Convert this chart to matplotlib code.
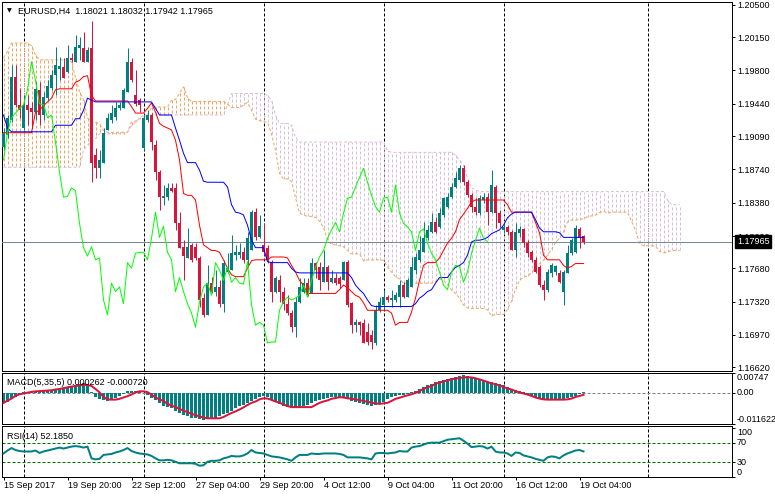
import matplotlib
matplotlib.use("Agg")
import matplotlib.pyplot as plt
from matplotlib.collections import LineCollection
import numpy as np

plt.rcParams['font.family'] = ['Liberation Sans', 'DejaVu Sans']

# ---------------- data (EURUSD H4) ----------------
header = "EURUSD,H4  1.18021 1.18032 1.17942 1.17965"
macd_title = "MACD(5,35,5) 0.000262 -0.000720"
rsi_title = "RSI(14) 52.1850"

opens = [
    1.1898, 1.1911, 1.1927, 1.1973, 1.1943, 1.1918, 1.1943, 1.1939, 1.1935, 1.1959,
    1.1932, 1.1950, 1.1961, 1.1975, 1.1981, 1.1983, 1.1978, 1.1993, 1.1989, 1.2004,
    1.2004, 1.1989, 1.2004, 1.1889, 1.1875, 1.1881, 1.1916, 1.1927, 1.1930, 1.1939,
    1.1939, 1.1957, 1.1989, 1.1953, 1.1948, 1.1897, 1.1927, 1.1932, 1.1900, 1.1871,
    1.1843, 1.1844, 1.1854, 1.1854, 1.1816, 1.1791, 1.1779, 1.1793, 1.1791, 1.1779,
    1.1736, 1.1718, 1.1752, 1.1743, 1.1748, 1.1730, 1.1764, 1.1766, 1.1782, 1.1782,
    1.1785, 1.1777, 1.1787, 1.1828, 1.1801, 1.1793, 1.1790, 1.1775, 1.1743, 1.1755,
    1.1743, 1.1730, 1.1720, 1.1705, 1.1732, 1.1743, 1.1752, 1.1741, 1.1774, 1.1769,
    1.1753, 1.1769, 1.1753, 1.1758, 1.1758, 1.1755, 1.1775, 1.1731, 1.1707, 1.1710,
    1.1709, 1.1700, 1.1697, 1.1688, 1.1723, 1.1729, 1.1737, 1.1734, 1.1734, 1.1737,
    1.1750, 1.1737, 1.1748, 1.1766, 1.1777, 1.1785, 1.1800, 1.1807, 1.1817, 1.1812,
    1.1825, 1.1833, 1.1844, 1.1855, 1.1862, 1.1875, 1.1860, 1.1846, 1.1834, 1.1827,
    1.1841, 1.1844, 1.1828, 1.1855, 1.1827, 1.1809, 1.1812, 1.1807, 1.1787, 1.1806,
    1.1810, 1.1795, 1.1785, 1.1777, 1.1769, 1.1750, 1.1745, 1.1763, 1.1764, 1.1763,
    1.1743, 1.1763, 1.1784, 1.1785, 1.1810, 1.18021,
]
highs = [
    1.1918, 1.1932, 1.1985, 1.1985, 1.1961, 1.1953, 1.1953, 1.1946, 1.1967, 1.1967,
    1.1957, 1.1969, 1.1980, 1.2005, 1.1994, 1.1993, 1.2007, 1.1998, 1.2018, 1.2015,
    1.2021, 1.2005, 1.2033, 1.1897, 1.1894, 1.1918, 1.1934, 1.1943, 1.1946, 1.1946,
    1.1961, 1.2004, 1.1993, 1.1980, 1.1950, 1.1932, 1.1937, 1.1934, 1.1905, 1.1873,
    1.1857, 1.1859, 1.1859, 1.1859, 1.1828, 1.1798, 1.1811, 1.1795, 1.1795, 1.1781,
    1.1741, 1.1771, 1.1759, 1.1766, 1.1755, 1.1777, 1.1784, 1.1804, 1.1793, 1.1795,
    1.1791, 1.1807, 1.1830, 1.1832, 1.1825, 1.1816, 1.1793, 1.1777, 1.1760, 1.1761,
    1.1748, 1.1739, 1.1723, 1.1737, 1.1757, 1.1757, 1.1757, 1.1779, 1.1775, 1.1775,
    1.1787, 1.1771, 1.1766, 1.1763, 1.1760, 1.1776, 1.1777, 1.1732, 1.1714, 1.1712,
    1.1714, 1.1709, 1.1702, 1.1729, 1.1737, 1.1745, 1.1739, 1.1745, 1.1743, 1.1755,
    1.1753, 1.1757, 1.1780, 1.1784, 1.1803, 1.1817, 1.1814, 1.1827, 1.1823, 1.1832,
    1.1844, 1.1848, 1.1859, 1.1871, 1.1878, 1.1878, 1.1862, 1.1849, 1.1843, 1.1846,
    1.1849, 1.1848, 1.1873, 1.1857, 1.1830, 1.1816, 1.1814, 1.1809, 1.1816, 1.1813,
    1.1811, 1.1798, 1.1787, 1.1780, 1.1771, 1.1755, 1.1767, 1.1774, 1.1771, 1.1766,
    1.1766, 1.1793, 1.1800, 1.1814, 1.1812, 1.18032,
]
lows = [
    1.1894, 1.1907, 1.1924, 1.1941, 1.1929, 1.1916, 1.1921, 1.1918, 1.1927, 1.1921,
    1.1927, 1.1948, 1.1959, 1.1953, 1.1969, 1.1972, 1.1977, 1.1989, 1.1989, 1.1991,
    1.1989, 1.1989, 1.1860, 1.1865, 1.1865, 1.1881, 1.1916, 1.1923, 1.1927, 1.1937,
    1.1939, 1.1957, 1.1967, 1.1942, 1.1935, 1.1894, 1.1924, 1.1894, 1.1862, 1.1830,
    1.1836, 1.1841, 1.1850, 1.1809, 1.1790, 1.1755, 1.1779, 1.1775, 1.1777, 1.1727,
    1.1716, 1.1718, 1.1741, 1.1738, 1.1727, 1.1721, 1.1763, 1.1766, 1.1777, 1.1779,
    1.1774, 1.1771, 1.1787, 1.1798, 1.1800, 1.1782, 1.1774, 1.1732, 1.1741, 1.1732,
    1.1723, 1.1718, 1.1700, 1.1694, 1.1731, 1.1741, 1.1738, 1.1741, 1.1757, 1.1745,
    1.1753, 1.1745, 1.1752, 1.1750, 1.1747, 1.1755, 1.1727, 1.1699, 1.1700, 1.1697,
    1.1688, 1.1686, 1.1682, 1.1686, 1.1721, 1.1723, 1.1732, 1.1727, 1.1732, 1.1727,
    1.1736, 1.1737, 1.1748, 1.1762, 1.1775, 1.1785, 1.1798, 1.1806, 1.1806, 1.1811,
    1.1823, 1.1832, 1.1843, 1.1854, 1.1860, 1.1857, 1.1844, 1.1828, 1.1825, 1.1825,
    1.1838, 1.1814, 1.1827, 1.1811, 1.1812, 1.1806, 1.1804, 1.1787, 1.1780, 1.1801,
    1.1791, 1.1780, 1.1775, 1.1763, 1.1748, 1.1734, 1.1743, 1.1759, 1.1761, 1.1752,
    1.1729, 1.1763, 1.1782, 1.1784, 1.1790, 1.17942,
]
closes = [
    1.1913, 1.1929, 1.1973, 1.1943, 1.1937, 1.1943, 1.1937, 1.1935, 1.1960, 1.1932,
    1.1951, 1.1963, 1.1975, 1.1985, 1.1984, 1.1972, 1.1993, 1.1991, 1.2005, 1.2007,
    1.1989, 1.2001, 1.1881, 1.1875, 1.1884, 1.1913, 1.1929, 1.1934, 1.1939, 1.1943,
    1.1959, 1.1989, 1.1969, 1.1944, 1.1943, 1.1929, 1.1932, 1.1903, 1.1871, 1.1844,
    1.1845, 1.1854, 1.1851, 1.1816, 1.1790, 1.1781, 1.1791, 1.1777, 1.1779, 1.1734,
    1.1718, 1.1752, 1.1743, 1.1748, 1.1730, 1.1774, 1.1768, 1.1784, 1.1785, 1.1785,
    1.1777, 1.1800, 1.1828, 1.1801, 1.1813, 1.1785, 1.1777, 1.1743, 1.1758, 1.1743,
    1.1730, 1.1720, 1.1705, 1.1732, 1.1748, 1.1752, 1.1739, 1.1774, 1.1766, 1.1755,
    1.1769, 1.1753, 1.1758, 1.1752, 1.1751, 1.1775, 1.1729, 1.1707, 1.1710, 1.1707,
    1.1688, 1.1689, 1.1689, 1.1723, 1.1732, 1.1737, 1.1734, 1.1736, 1.1739, 1.1750,
    1.1737, 1.1755, 1.1769, 1.1780, 1.1787, 1.1800, 1.1809, 1.1817, 1.1807, 1.1827,
    1.1843, 1.1844, 1.1855, 1.1865, 1.1875, 1.1860, 1.1846, 1.1834, 1.1828, 1.1843,
    1.1844, 1.1828, 1.1857, 1.1827, 1.1816, 1.1812, 1.1807, 1.1787, 1.1807, 1.1810,
    1.1795, 1.1784, 1.1777, 1.1764, 1.1750, 1.1745, 1.1764, 1.1771, 1.1770, 1.1753,
    1.1764, 1.1784, 1.1798, 1.1811, 1.1800, 1.17965,
]

tenkan = [
    1.1913, 1.1913, 1.1913, 1.1913, 1.1913, 1.1913, 1.1913, 1.1913, 1.1935, 1.1937,
    1.1942, 1.1946, 1.1950, 1.1959, 1.1960, 1.1960, 1.1960, 1.1960, 1.1967, 1.1969,
    1.1973, 1.1974, 1.1953, 1.1947, 1.1947, 1.1947, 1.1947, 1.1947, 1.1947, 1.1947,
    1.1947, 1.1947, 1.1941, 1.1934, 1.1934, 1.1934, 1.1939, 1.1945, 1.1935, 1.1923,
    1.1920, 1.1918, 1.1916, 1.1905, 1.1884, 1.1848, 1.1846, 1.1846, 1.1841, 1.1814,
    1.1793, 1.1790, 1.1787, 1.1787, 1.1785, 1.1777, 1.1768, 1.1761, 1.1759, 1.1759,
    1.1759, 1.1768, 1.1776, 1.1777, 1.1777, 1.1777, 1.1777, 1.1780, 1.1780, 1.1780,
    1.1780, 1.1779, 1.1771, 1.1764, 1.1755, 1.1750, 1.1741, 1.1741, 1.1741, 1.1741,
    1.1741, 1.1741, 1.1741, 1.1741, 1.1745, 1.1750, 1.1747, 1.1743, 1.1739, 1.1737,
    1.1731, 1.1723, 1.1723, 1.1723, 1.1723, 1.1723, 1.1723, 1.1720, 1.1707, 1.1710,
    1.1710, 1.1710, 1.1721, 1.1736, 1.1755, 1.1771, 1.1774, 1.1774, 1.1774, 1.1779,
    1.1787, 1.1795, 1.1800, 1.1807, 1.1820, 1.1826, 1.1832, 1.1839, 1.1841, 1.1841,
    1.1841, 1.1841, 1.1841, 1.1841, 1.1841, 1.1841, 1.1836, 1.1828, 1.1828, 1.1828,
    1.1828, 1.1828, 1.1828, 1.1817, 1.1806, 1.1782, 1.1777, 1.1777, 1.1777, 1.1777,
    1.1771, 1.1768, 1.1770, 1.1773, 1.1773, 1.1773,
]
kijun = [
    1.1932, 1.1918, 1.1914, 1.1914, 1.1914, 1.1914, 1.1914, 1.1914, 1.1914, 1.1914,
    1.1914, 1.1914, 1.1914, 1.1921, 1.1921, 1.1921, 1.1921, 1.1921, 1.1928, 1.1928,
    1.1937, 1.1950, 1.1948, 1.1946, 1.1946, 1.1946, 1.1946, 1.1946, 1.1946, 1.1946,
    1.1946, 1.1946, 1.1946, 1.1946, 1.1946, 1.1946, 1.1946, 1.1946, 1.1939, 1.1932,
    1.1932, 1.1932, 1.1932, 1.1918, 1.1905, 1.1891, 1.1881, 1.1881, 1.1881, 1.1873,
    1.1861, 1.1860, 1.1860, 1.1860, 1.1860, 1.1860, 1.1855, 1.1836, 1.1828, 1.1827,
    1.1825, 1.1814, 1.1798, 1.1790, 1.1790, 1.1790, 1.1775, 1.1774, 1.1774, 1.1774,
    1.1774, 1.1774, 1.1768, 1.1764, 1.1763, 1.1763, 1.1763, 1.1763, 1.1763, 1.1763,
    1.1763, 1.1763, 1.1763, 1.1763, 1.1763, 1.1763, 1.1763, 1.1758, 1.1750, 1.1745,
    1.1741, 1.1734, 1.1728, 1.1727, 1.1727, 1.1727, 1.1727, 1.1727, 1.1727, 1.1727,
    1.1727, 1.1727, 1.1727, 1.1730, 1.1736, 1.1739, 1.1743, 1.1745, 1.1752, 1.1758,
    1.1758, 1.1758, 1.1764, 1.1769, 1.1771, 1.1774, 1.1782, 1.1796, 1.1798, 1.1798,
    1.1799, 1.1801, 1.1805, 1.1807, 1.1809, 1.1814, 1.1822, 1.1826, 1.1828, 1.1828,
    1.1828, 1.1828, 1.1828, 1.1820, 1.1811, 1.1807, 1.1807, 1.1807, 1.1807, 1.1806,
    1.1801, 1.1801, 1.1801, 1.1801, 1.1801, 1.1801,
]
span_a = [
    1.1993, 1.2000, 1.2009, 1.2009, 1.2009, 1.2009, 1.2009, 1.2006, 1.1996, 1.1991,
    1.1991, 1.1991, 1.1991, 1.1991, 1.1991, 1.1991, 1.1991, 1.1989, 1.1972, 1.1957,
    1.1948, 1.1929, 1.1924, 1.1924, 1.19225, 1.19155, 1.19135, 1.19135, 1.19135, 1.19135,
    1.19135, 1.19135, 1.19245, 1.19255, 1.1928, 1.1930, 1.1932, 1.1940, 1.19405, 1.19405,
    1.19405, 1.19405, 1.19475, 1.19485, 1.1955, 1.1962, 1.19505, 1.19465, 1.19465, 1.19465,
    1.19465, 1.19465, 1.19465, 1.19465, 1.19465, 1.19465, 1.19435, 1.1940, 1.1940, 1.1940,
    1.19425, 1.19455, 1.1937, 1.19275, 1.1926, 1.1925, 1.1924, 1.19115, 1.18945, 1.18695,
    1.18635, 1.18635, 1.1861, 1.18435, 1.1827, 1.1825, 1.18235, 1.18235, 1.18225, 1.18185,
    1.18115, 1.17985, 1.17935, 1.1793, 1.1792, 1.1791, 1.1787, 1.17835, 1.17835, 1.17835,
    1.1776, 1.1777, 1.1777, 1.1777, 1.1777, 1.17765, 1.17695, 1.1764, 1.1759, 1.17565,
    1.1752, 1.1752, 1.1752, 1.1752, 1.1752, 1.1752, 1.1752, 1.1752, 1.1754, 1.17565,
    1.1755, 1.17505, 1.17445, 1.1741, 1.1736, 1.17285, 1.17255, 1.1725, 1.1725, 1.1725,
    1.1725, 1.17235, 1.1717, 1.17185, 1.17185, 1.17185, 1.1724, 1.1733, 1.17455, 1.1755,
    1.17585, 1.17595, 1.1763, 1.17685, 1.17725, 1.17765, 1.1782, 1.1788, 1.17955, 1.1800,
    1.1807, 1.18175, 1.18195, 1.18195, 1.1820, 1.1821, 1.1823, 1.1824, 1.1825, 1.18275,
    1.1829, 1.1827, 1.1828, 1.1828, 1.1828, 1.1828, 1.1828, 1.18185, 1.18085, 1.17945,
    1.1792, 1.1792, 1.1792, 1.17915, 1.1786, 1.17845, 1.17855, 1.1787, 1.1787, 1.1787,
]
span_b = [
    1.1876, 1.1876, 1.1876, 1.1876, 1.1876, 1.1876, 1.1876, 1.1876, 1.1876, 1.1876,
    1.1876, 1.1876, 1.1876, 1.1876, 1.1876, 1.1876, 1.1876, 1.1876, 1.1876, 1.1876,
    1.1894, 1.1900, 1.1902, 1.1907, 1.1912, 1.1912, 1.1912, 1.1912, 1.1912, 1.1912,
    1.1912, 1.1914, 1.1920, 1.1924, 1.1929, 1.1932, 1.1932, 1.1932, 1.1932, 1.1932,
    1.1932, 1.1932, 1.1932, 1.1932, 1.1932, 1.1932, 1.1932, 1.1932, 1.1932, 1.1932,
    1.1932, 1.1932, 1.1932, 1.1932, 1.1932, 1.1932, 1.1943, 1.1955, 1.1955, 1.1955,
    1.1955, 1.1955, 1.1955, 1.1955, 1.1955, 1.1955, 1.1953, 1.1948, 1.1932, 1.1923,
    1.1923, 1.1923, 1.1921, 1.1908, 1.1903, 1.1903, 1.1903, 1.1903, 1.1903, 1.1903,
    1.1903, 1.1903, 1.1903, 1.1903, 1.1903, 1.1903, 1.1903, 1.1903, 1.1903, 1.1903,
    1.1903, 1.1903, 1.1903, 1.1903, 1.1903, 1.1903, 1.1894, 1.1892, 1.1892, 1.1892,
    1.1892, 1.1892, 1.1892, 1.1892, 1.1892, 1.1892, 1.1892, 1.1892, 1.1892, 1.1892,
    1.1892, 1.1892, 1.1892, 1.1889, 1.1884, 1.1878, 1.1865, 1.1854, 1.1852, 1.1850,
    1.1850, 1.1850, 1.1850, 1.1850, 1.1850, 1.1850, 1.1850, 1.1850, 1.1850, 1.1850,
    1.1850, 1.1850, 1.1850, 1.1850, 1.1850, 1.1850, 1.1850, 1.1850, 1.1850, 1.1850,
    1.1850, 1.1850, 1.1850, 1.1850, 1.1850, 1.1850, 1.1850, 1.1850, 1.1850, 1.1850,
    1.1850, 1.1850, 1.1850, 1.1850, 1.1850, 1.1850, 1.1850, 1.1850, 1.1850, 1.1850,
    1.1850, 1.1850, 1.1850, 1.1850, 1.1850, 1.1850, 1.1841, 1.1836, 1.1836, 1.1836,
]
chikou_shift = 24  # lagging span = close drawn this many bars back

macd_hist = [
    -0.0035, -0.0033, -0.0020, -0.0014, -0.0005, 0.0003, 0.0005, 0.0006, 0.0008, 0.0008,
    0.0009, 0.0010, 0.0012, 0.0014, 0.0015, 0.0016, 0.0020, 0.0024, 0.0028, 0.0032,
    0.0036, 0.0034, 0.0002, -0.0014, -0.0022, -0.0028, -0.0029, -0.0024, -0.0020, -0.0010,
    -0.0004, 0.0006, 0.0009, 0.0008, 0.0006, -0.0002, -0.0008, -0.0020, -0.0028, -0.0038,
    -0.0048, -0.0054, -0.0058, -0.0066, -0.0075, -0.0082, -0.0088, -0.0092, -0.0095, -0.0098,
    -0.0100, -0.0097, -0.0095, -0.0092, -0.0086, -0.0080, -0.0074, -0.0066, -0.0058, -0.0050,
    -0.0045, -0.0038, -0.0030, -0.0022, -0.0014, -0.0010, -0.0016, -0.0025, -0.0035, -0.0042,
    -0.0048, -0.0052, -0.0056, -0.0055, -0.0052, -0.0050, -0.0046, -0.0038, -0.0030, -0.0025,
    -0.0022, -0.0018, -0.0016, -0.0015, -0.0016, -0.0016, -0.0022, -0.0030, -0.0035, -0.0038,
    -0.0042, -0.0045, -0.0047, -0.0044, -0.0038, -0.0032, -0.0022, -0.0015, -0.0010, -0.0008,
    -0.0008, -0.0005, 0.0002, 0.0009, 0.0016, 0.0022, 0.0028, 0.0034, 0.0040, 0.0044,
    0.0048, 0.0052, 0.0055, 0.0060, 0.0064, 0.0066, 0.0062, 0.0056, 0.0052, 0.0050,
    0.0047, 0.0042, 0.0040, 0.0036, 0.0032, 0.0028, 0.0022, 0.0016, 0.0010, 0.0006,
    0.0002, -0.0004, -0.0010, -0.0016, -0.0022, -0.0028, -0.0028, -0.0026, -0.0024, -0.0024,
    -0.0022, -0.0020, -0.0016, -0.0010, -0.0004, 0.000262,
]
macd_signal = [
    -0.0037, -0.0029, -0.0021, -0.0011, -0.0005, -0.0002, 0.0001, 0.0004, 0.0006, 0.0007,
    0.0008, 0.0009, 0.0010, 0.0013, 0.0015, 0.0018, 0.0021, 0.0024, 0.0026, 0.0028,
    0.0030, 0.0030, 0.0026, 0.0015, 0.0002, -0.0015, -0.0024, -0.0025, -0.0025, -0.0022,
    -0.0017, -0.0012, -0.0006, 0.0002, 0.0006, 0.0006, 0.0003, -0.0006, -0.0017, -0.0024,
    -0.0030, -0.0041, -0.0047, -0.0053, -0.0060, -0.0066, -0.0072, -0.0078, -0.0083, -0.0088,
    -0.0092, -0.0095, -0.0095, -0.0095, -0.0095, -0.0090, -0.0082, -0.0075, -0.0069, -0.0062,
    -0.0054, -0.0045, -0.0037, -0.0032, -0.0024, -0.0020, -0.0021, -0.0026, -0.0032, -0.0037,
    -0.0043, -0.0049, -0.0053, -0.0053, -0.0053, -0.0053, -0.0053, -0.0053, -0.0045, -0.0037,
    -0.0032, -0.0028, -0.0022, -0.0019, -0.0016, -0.0017, -0.0020, -0.0022, -0.0024, -0.0027,
    -0.0030, -0.0033, -0.0036, -0.0039, -0.0041, -0.0039, -0.0037, -0.0030, -0.0022, -0.0018,
    -0.0013, -0.0009, -0.0005, 0.0000, 0.0007, 0.0015, 0.0021, 0.0026, 0.0034, 0.0039,
    0.0043, 0.0047, 0.0051, 0.0054, 0.0056, 0.0058, 0.0059, 0.0058, 0.0055, 0.0051,
    0.0046, 0.0041, 0.0036, 0.0033, 0.0028, 0.0022, 0.0017, 0.0013, 0.0007, 0.0002,
    -0.0002, -0.0006, -0.0011, -0.0017, -0.0021, -0.0024, -0.0025, -0.0025, -0.0025, -0.0025,
    -0.0025, -0.0024, -0.0021, -0.0015, -0.0011, -0.00072,
]
rsi = [
    48, 54, 59, 55, 53, 52, 52, 52, 54, 49,
    52, 54, 56, 58, 60, 58, 60, 62, 63, 62,
    60, 62, 38, 36, 37, 45, 46, 47, 50, 52,
    55, 59, 53, 50, 48, 47, 46, 43, 38, 34,
    34, 35, 34, 31, 28, 28, 28, 28, 27, 23,
    24, 31, 33, 33, 34, 38, 40, 43, 42, 42,
    44, 48, 55, 50, 49, 48, 45, 42, 41, 40,
    38, 36, 33, 40, 45, 45, 45, 48, 47, 47,
    48, 48, 48, 48, 47, 45, 40, 40, 40, 40,
    39, 38, 36, 48, 49, 49, 48, 49, 50, 53,
    52, 52, 60, 62, 63, 66, 69, 70, 70, 70,
    73, 76, 77, 78, 79, 74, 68, 61, 62, 63,
    62, 58, 62, 52, 50, 50, 48, 43, 50, 49,
    44, 42, 40, 37, 35, 33, 40, 42, 41, 38,
    44, 48, 51, 54, 55, 52.185,
]

time_tick_bars = [0, 16, 32, 48, 64, 80, 96, 112, 128, 144]
time_tick_labels = ["15 Sep 2017", "19 Sep 20:00", "22 Sep 12:00", "27 Sep 04:00",
                    "29 Sep 20:00", "4 Oct 12:00", "9 Oct 04:00", "11 Oct 20:00",
                    "16 Oct 12:00", "19 Oct 04:00"]
week_grid_bars = [5, 35, 65, 95, 125, 161]
price_ticks = [1.20500, 1.20150, 1.19800, 1.19440, 1.19090, 1.18740,
               1.18380, 1.18020, 1.17680, 1.17320, 1.16970, 1.16620]
macd_ticks = [0.00747, 0.0, -0.011622]
macd_tick_labels = ["0.00747", "0.00", "-0.011622"]
rsi_ticks = [100, 70, 30, 0]
rsi_levels = [70, 30]

# ---------------- figure ----------------
W, H = 775, 498
fig = plt.figure(figsize=(W / 100, H / 100), dpi=100)
PX = 0.72  # one pixel in points
FS = 6.5
BULL, BEAR = '#008080', '#DC143C'
DASH = (0, (3, 2))


def panel(l, t, r, b):
    return fig.add_axes([l / W, 1 - b / H, (r - l) / W, (b - t) / H])


ax = panel(2, 2, 732, 371)
axm = panel(2, 373, 732, 424)
axr = panel(2, 426, 732, 477)

for a_ in (ax, axm, axr):
    a_.set_xlim(-0.375, 182.125)  # 4 px per bar, bar centres on pixel centres
    for s in a_.spines.values():
        s.set_linewidth(PX)
    a_.yaxis.tick_right()
    a_.tick_params(axis='y', direction='out', length=3 * PX, width=PX,
                   pad=2 * PX, labelsize=FS)
    for g in week_grid_bars:
        a_.axvline(g, color='black', lw=PX, ls=DASH, zorder=0.5)

# ---- main price panel ----
o, hi, lo, c = (np.array(v) for v in (opens, highs, lows, closes))
idx = np.arange(len(c))

a_arr, b_arr = np.array(span_a), np.array(span_b)
cidx = np.arange(len(a_arr))
segs = [[(i, a_arr[i]), (i, b_arr[i])] for i in cidx]
cols = ['#F4A460' if a_arr[i] >= b_arr[i] else '#D8BFD8' for i in cidx]
ax.add_collection(LineCollection(segs, colors=cols, linewidths=PX,
                                 linestyles=[DASH], zorder=1))
ax.plot(cidx, a_arr, color='#F4A460', lw=PX, ls=DASH, zorder=2)
ax.plot(cidx, b_arr, color='#D8BFD8', lw=PX, ls=DASH, zorder=2)

ax.axhline(c[-1], color='#778899', lw=PX, zorder=3)

colors = np.where(c >= o, BULL, BEAR)
ax.vlines(idx, lo, hi, colors=colors, lw=PX, zorder=4)
body_h = np.maximum(np.abs(c - o), 0.00011)
ax.bar(idx, body_h, bottom=np.minimum(o, c), width=0.75, color=colors,
       lw=0, zorder=5)

ax.plot(idx, tenkan, color='#FF0000', lw=PX, zorder=6)
ax.plot(idx, kijun, color='#0000FF', lw=PX, zorder=6)
ax.plot(idx[:-chikou_shift], c[chikou_shift:], color='#00FF00', lw=PX, zorder=6)

ax.set_ylim(1.16580, 1.20529)
ax.set_yticks(price_ticks)
ax.set_yticklabels([f"{v:.5f}" for v in price_ticks])
ax.set_xticks([])

ax.annotate(f"{c[-1]:.5f}", xy=(1, c[-1]), xycoords=('axes fraction', 'data'),
            xytext=(3.6, 0), textcoords='offset points', va='center', ha='left',
            color='white', fontsize=FS, zorder=10, annotation_clip=False,
            bbox=dict(boxstyle='square,pad=0.2', fc='black', ec='black'))

# ---- MACD panel ----
axm.axhline(0, color='#808080', lw=PX, ls=DASH, zorder=1)
axm.bar(idx, macd_hist, width=0.6, color=BULL, lw=0, zorder=2)
axm.plot(idx, macd_signal, color=BEAR, lw=2 * PX, zorder=3)
axm.set_ylim(macd_ticks[2], macd_ticks[0])
axm.set_yticks(macd_ticks)
axm.set_yticklabels(macd_tick_labels)
for lab, va in zip(axm.get_yticklabels(), ['top', 'center', 'bottom']):
    lab.set_verticalalignment(va)
axm.set_xticks([])

# ---- RSI panel ----
for lv in rsi_levels:
    axr.axhline(lv, color='#007000', lw=PX, ls=DASH, zorder=1)
axr.plot(idx, rsi, color=BULL, lw=2 * PX, zorder=3)
axr.set_ylim(0, 104)
axr.set_yticks(rsi_ticks)
axr.set_yticklabels([str(v) for v in rsi_ticks])
for lab, va in zip(axr.get_yticklabels(), ['top', 'center', 'center', 'bottom']):
    lab.set_verticalalignment(va)
axr.set_xticks(time_tick_bars)
axr.set_xticklabels(time_tick_labels, ha='left')
axr.tick_params(axis='x', direction='out', length=3 * PX, width=PX, pad=1,
                labelsize=FS)


# ---- captions ----
def ptext(x, y, s, size=FS, **kw):
    fig.text(x / W, 1 - y / H, s, fontsize=size, va='center', ha='left', **kw)


ptext(6.5, 10.5, "\u25bc", size=4.5, family='DejaVu Sans')
ptext(18, 11, header)
ptext(7, 382.5, macd_title)
ptext(7, 436, rsi_title)

fig.savefig("out.png", dpi=100)
